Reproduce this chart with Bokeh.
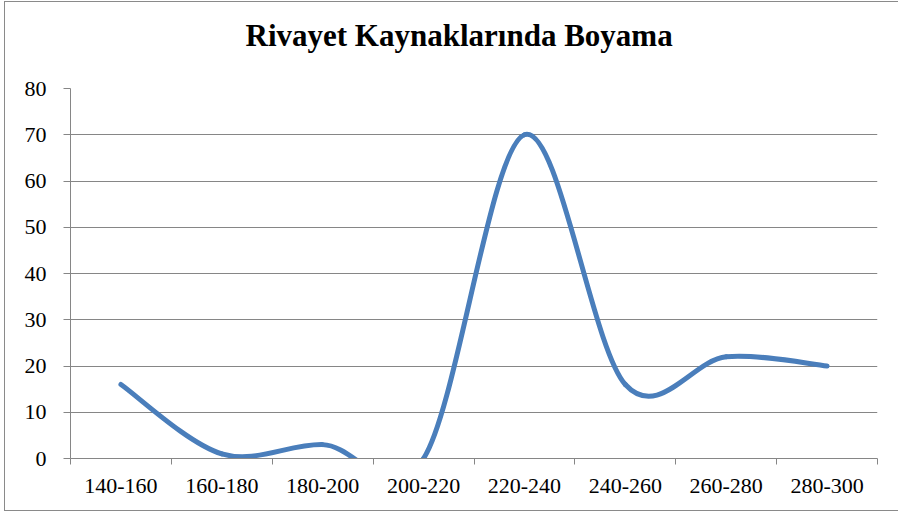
import numpy as np
from bokeh.plotting import figure
from bokeh.models import Range1d, FixedTicker, LinearAxis
from bokeh.embed import file_html
from bokeh.resources import INLINE

# ---- data ----
categories = ["140-160", "160-180", "180-200", "200-220",
              "220-240", "240-260", "260-280", "280-300"]
values = [16, 1, 3, 0, 70, 16, 22, 20]
y_ticks = [0, 10, 20, 30, 40, 50, 60, 70, 80]
title_text = "Rivayet Kaynaklarında Boyama"

# ---- smoothed line (Excel-like cardinal bezier) ----
n = len(categories)
xs = np.arange(n) + 0.5
ys = np.array(values, dtype=float)
xp = np.concatenate([[xs[0]], xs, [xs[-1]]])
yp = np.concatenate([[ys[0]], ys, [ys[-1]]])
x0, y0 = xs[:-1], ys[:-1]
x1, y1 = xs[1:], ys[1:]
cx0 = x0 + (xp[2:n + 1] - xp[0:n - 1]) / 6.0
cy0 = y0 + (yp[2:n + 1] - yp[0:n - 1]) / 6.0
cx1 = x1 - (xp[3:n + 2] - xp[1:n]) / 6.0
cy1 = y1 - (yp[3:n + 2] - yp[1:n]) / 6.0

GRAY = "#868686"
SERIF = "Liberation Serif"

p = figure(width=894, height=510, output_backend="svg", toolbar_location=None,
           x_range=Range1d(0, n), y_range=Range1d(0, 80),
           min_border_left=65, min_border_right=22, min_border_top=86,
           min_border_bottom=54, title=title_text,
           styles={"margin-left": "4px", "margin-top": "1px",
                   "border-left": "1px solid #8a8a8a",
                   "border-top": "1px solid #8a8a8a",
                   "border-bottom": "1px solid #8a8a8a"})

p.background_fill_color = "white"
p.border_fill_color = "white"
p.outline_line_color = None

p.bezier(x0=x0, y0=y0, x1=x1, y1=y1, cx0=cx0, cy0=cy0, cx1=cx1, cy1=cy1,
         line_color="#4a7ebb", line_width=5, line_cap="round")

# grid
p.xgrid.visible = False
p.ygrid.ticker = FixedTicker(ticks=y_ticks)
p.ygrid.grid_line_color = GRAY
p.ygrid.grid_line_width = 1

# y axis
p.yaxis.ticker = FixedTicker(ticks=y_ticks)
p.yaxis.axis_line_color = GRAY
p.yaxis.major_tick_line_color = GRAY
p.yaxis.major_tick_out = 7
p.yaxis.major_tick_in = 0
p.yaxis.minor_tick_line_color = None
p.yaxis.major_label_standoff = 17
p.yaxis.major_label_text_font = SERIF
p.yaxis.major_label_text_font_size = "22px"
p.yaxis.major_label_text_color = "black"

# x axis: labels at category centres, ticks at category boundaries
p.xaxis.ticker = FixedTicker(ticks=list(xs), minor_ticks=list(range(n + 1)))
p.xaxis.major_label_overrides = {float(x): c for x, c in zip(xs, categories)}
p.xaxis.axis_line_color = GRAY
p.xaxis.major_tick_line_color = None
p.xaxis.major_tick_out = 0
p.xaxis.major_tick_in = 0
p.xaxis.minor_tick_line_color = GRAY
p.xaxis.minor_tick_out = 6
p.xaxis.minor_tick_in = 0
p.xaxis.major_label_standoff = 14
p.xaxis.major_label_text_font = SERIF
p.xaxis.major_label_text_font_size = "22px"
p.xaxis.major_label_text_color = "black"

# invisible spacer between title and plot area
spacer = LinearAxis(ticker=FixedTicker(ticks=[]), axis_line_color=None,
                    major_tick_line_color=None, minor_tick_line_color=None,
                    major_tick_out=0, major_tick_in=0, major_label_standoff=0,
                    axis_label=".", axis_label_text_alpha=0,
                    axis_label_text_font_size="20px", axis_label_standoff=19)
p.add_layout(spacer, "above")

# title
p.title.align = "left"
p.title.offset = 175
p.title.standoff = 0
p.title.text_font = SERIF
p.title.text_font_style = "bold"
p.title.text_font_size = "31px"
p.title.text_color = "black"

open("out.html", "w").write(file_html(p, INLINE))
